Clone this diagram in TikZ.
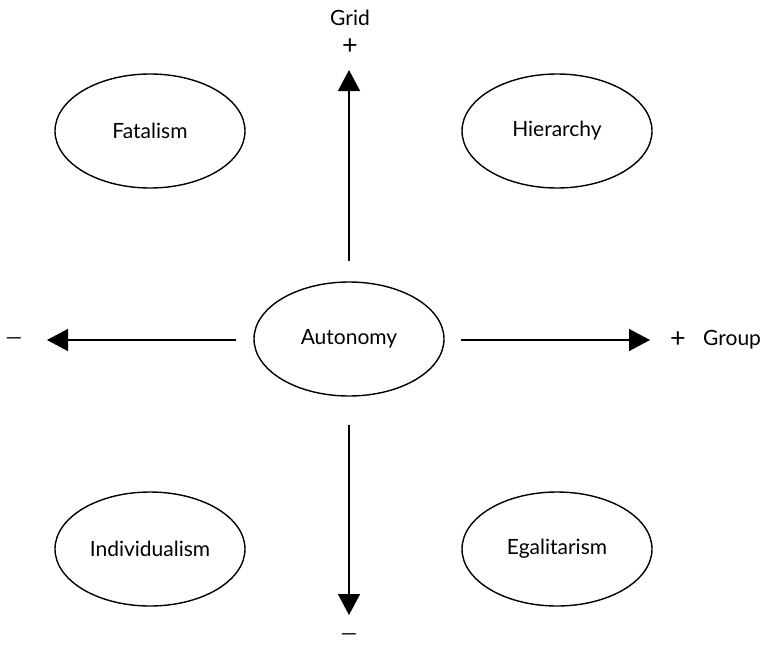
\documentclass[tikz,border=0pt]{standalone}
\usepackage{fontspec}
\setmainfont{Lato}
\usepackage{tikz}
\usetikzlibrary{
  arrows.meta,
  shapes.geometric}

\begin{document}
\begin{tikzpicture}[x=1pt,y=-1pt,
  culture/.style={draw, ellipse, line width=1.4pt, minimum width=190pt, minimum height=114pt, inner sep=0pt, font=\fontsize{21}{25}\selectfont},
  axis/.style={line width=1.4pt, -{Triangle[length=21pt,width=22pt]}},
  sign/.style={font=\fontsize{27}{31}\selectfont, inner sep=0pt},
  axislabel/.style={font=\fontsize{21}{25}\selectfont, inner sep=0pt}]
\useasboundingbox (0,0) rectangle (762,645);
\node[culture] (auto) at (349,339) {Autonomy};
\node[culture] (fatal) at (150,131) {Fatalism};
\node[culture] (hier) at (557,131) {Hierarchy};
\node[culture] (indiv) at (150,549) {Individualism};
\node[culture] (egal) at (557,549) {Egalitarism};
% axis ends
\coordinate (gridtip) at (349,70);
\coordinate (grouptip) at (650,340);
\coordinate (lefttip) at (47,340);
\coordinate (downtip) at (349,615);
\draw[axis, shorten <=20pt] (auto.north) -- (gridtip);
\draw[axis, shorten <=16pt] (auto.east |- grouptip) -- (grouptip);
\draw[axis, shorten <=17pt] (auto.west |- lefttip) -- (lefttip);
\draw[axis, shorten <=28pt] (auto.south) -- (downtip);
% signs
\node[axislabel] (grid) at (350,18) {Grid};
\node[sign] (gridplus) at (350,47) {+};
\node[sign] (groupplus) at (678,340) {+};
\node[axislabel, anchor=west] (group) at (703,340) {Group};
\node[axislabel] (leftminus) at (14,341) {—};
\node[axislabel] (downminus) at (349,637) {—};
\end{tikzpicture}
\end{document}
